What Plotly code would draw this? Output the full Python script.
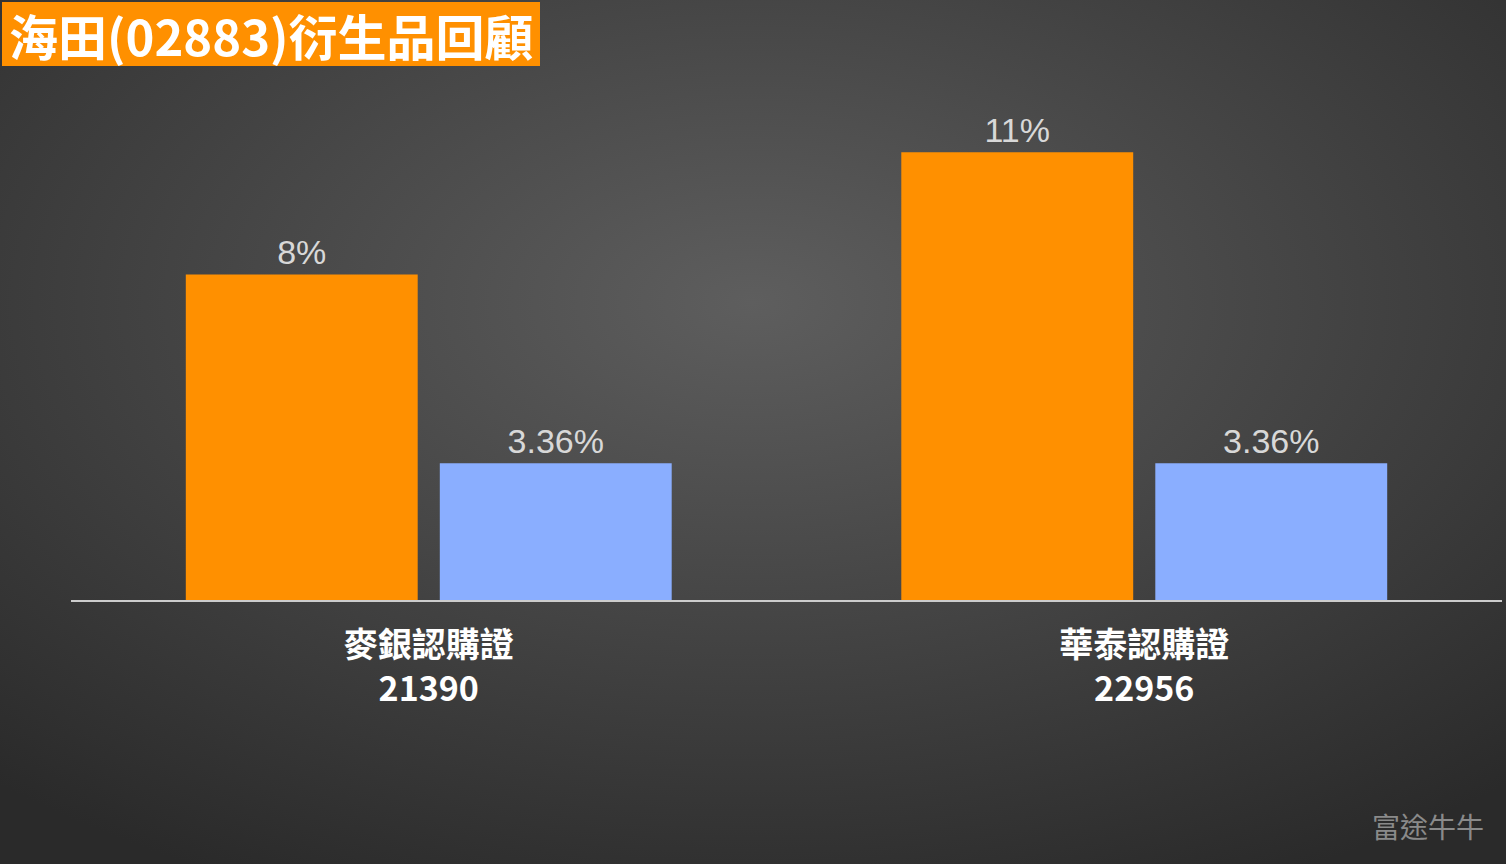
import plotly.graph_objects as go
import base64

categories = ["麥銀認購證<br>21390", "華泰認購證<br>22956"]
series_a = [8, 11]
series_b = [3.36, 3.36]
labels_a = ["8%", "11%"]
labels_b = ["3.36%", "3.36%"]

svg = '''<svg xmlns="http://www.w3.org/2000/svg" width="1506" height="864"><defs><radialGradient id="g" cx="50%" cy="35%" r="75%"><stop offset="0%" stop-color="#5e5e5e"/><stop offset="100%" stop-color="#2a2a2a"/></radialGradient></defs><rect width="1506" height="864" fill="url(#g)"/></svg>'''
uri = "data:image/svg+xml;base64," + base64.b64encode(svg.encode()).decode()

font = "Noto Sans CJK TC"
fig = go.Figure()
fig.add_bar(x=categories, y=series_a, text=labels_a, marker_color="#FF9000",
            textposition="outside", cliponaxis=False)
fig.add_bar(x=categories, y=series_b, text=labels_b, marker_color="#8AAEFF",
            textposition="outside", cliponaxis=False)
fig.update_traces(textfont=dict(color="#d8d8d8", size=34, family="Liberation Sans, Arial, sans-serif"),
                  marker_line_width=0)
fig.update_layout(
    width=1506, height=864, barmode="group", bargap=0.29, bargroupgap=0.087,
    showlegend=False, paper_bgcolor="#3a3a3a", plot_bgcolor="rgba(0,0,0,0)",
    margin=dict(l=71, r=4, t=60, b=264),
    images=[dict(source=uri, xref="paper", yref="paper", x=-71/1431, y=1+60/540,
                 sizex=1506/1431, sizey=864/540, sizing="stretch", layer="below",
                 xanchor="left", yanchor="top")],
    xaxis=dict(showline=True, linecolor="#cccccc", linewidth=2, ticks="", ticklabelstandoff=14,
               tickfont=dict(color="white", size=34, family=font, weight="bold")),
    yaxis=dict(range=[0, 13.27], visible=False),
    shapes=[dict(type="rect", xref="paper", yref="paper", x0=-69/1431, x1=469/1431,
                 y0=1+(60-66)/540, y1=1+(60-2)/540, fillcolor="#FF9000", line_width=0)],
    annotations=[
        dict(text="<b>海田(02883)衍生品回顧</b>", xref="paper", yref="paper",
             x=-64/1431, y=1+(60-34)/540, xanchor="left", yanchor="middle",
             showarrow=False, font=dict(color="white", size=49, family=font)),
        dict(text="富途牛牛", xref="paper", yref="paper", x=1-16/1431, y=-(826-600)/540,
             xanchor="right", yanchor="middle", showarrow=False,
             font=dict(color="#8a8a8a", size=28, family=font)),
    ],
)
fig.write_html("out.html", config={"displayModeBar": False},
               post_script="document.body.style.margin='0';document.body.style.background='#2a2a2a';")
